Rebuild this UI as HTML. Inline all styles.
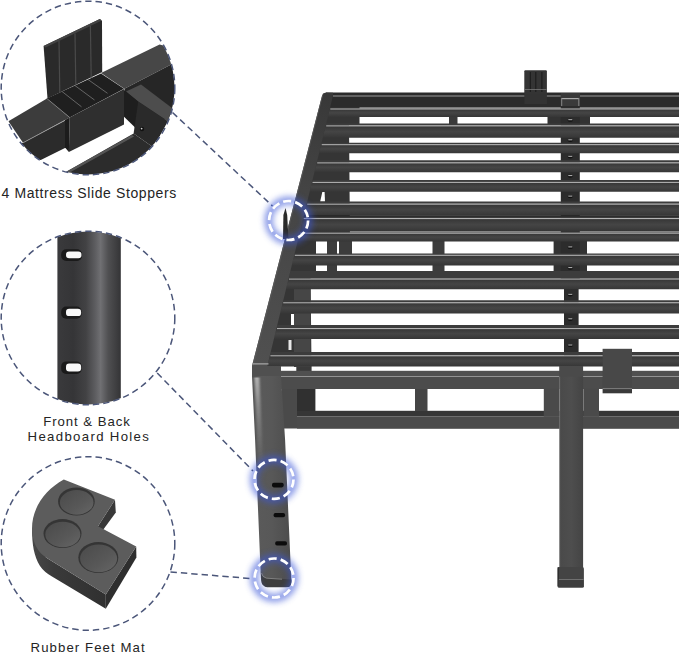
<!DOCTYPE html>
<html lang="en"><head><meta charset="utf-8"><title>Bed frame features</title>
<style>
html,body{margin:0;padding:0;background:#fff;}
body{width:679px;height:653px;overflow:hidden;position:relative;font-family:"Liberation Sans",sans-serif;color:#1f1f1f;}
svg{position:absolute;left:0;top:0;display:block;}
.lbl{position:absolute;white-space:nowrap;font-size:14px;line-height:16px;color:#242424;}
#l1{left:1.5px;top:184.5px;letter-spacing:0.6px;}
#l2{left:43.2px;top:413.6px;letter-spacing:0.95px;font-size:13.2px;}
#l3{left:27.6px;top:428.6px;letter-spacing:1.33px;font-size:13.2px;}
#l4{left:30.6px;top:640px;letter-spacing:1.08px;font-size:13.2px;}
</style></head><body>
<svg width="679" height="653" viewBox="0 0 679 653">
<defs>
<clipPath id="c1"><circle cx="88" cy="88" r="86.5"/></clipPath>
<clipPath id="c2"><circle cx="88" cy="318" r="86.5"/></clipPath>
<clipPath id="c3"><circle cx="88" cy="543.5" r="86.5"/></clipPath>
<linearGradient id="post" x1="0" x2="1" y1="0" y2="0">
<stop offset="0" stop-color="#3a3a3c"/><stop offset="0.25" stop-color="#353537"/><stop offset="0.45" stop-color="#424244"/><stop offset="0.6" stop-color="#5e5e61"/><stop offset="0.68" stop-color="#707073"/><stop offset="0.8" stop-color="#505052"/><stop offset="1" stop-color="#343436"/>
</linearGradient>
<linearGradient id="body" x1="0" x2="0" y1="0" y2="1">
<stop offset="0" stop-color="#343434"/><stop offset="0.5" stop-color="#454545"/><stop offset="1" stop-color="#363636"/>
</linearGradient>
<linearGradient id="leg" x1="0" x2="1" y1="0" y2="0">
<stop offset="0" stop-color="#4c4c4c"/><stop offset="0.15" stop-color="#5a5a5a"/><stop offset="0.5" stop-color="#585858"/><stop offset="1" stop-color="#4c4c4c"/>
</linearGradient>
<linearGradient id="cleg" x1="0" x2="1" y1="0" y2="0">
<stop offset="0" stop-color="#7a7a7a"/><stop offset="0.06" stop-color="#4a4a4a"/><stop offset="0.5" stop-color="#4e4e4e"/><stop offset="1" stop-color="#444"/>
</linearGradient>
<linearGradient id="hl" x1="0" x2="0" y1="0" y2="1"><stop offset="0" stop-color="#b8b8b8" stop-opacity="0.95"/><stop offset="0.35" stop-color="#a0a0a0" stop-opacity="0.6"/><stop offset="1" stop-color="#888" stop-opacity="0"/></linearGradient>
<filter id="b1" x="-50%" y="-10%" width="200%" height="120%"><feGaussianBlur stdDeviation="1.3 0.5"/></filter>
<linearGradient id="matside" x1="0" x2="1" y1="0" y2="0"><stop offset="0" stop-color="#484848"/><stop offset="0.3" stop-color="#3a3a3a"/><stop offset="1" stop-color="#303030"/></linearGradient>
<linearGradient id="dish" x1="0" x2="1" y1="0" y2="1"><stop offset="0" stop-color="#4a4a4a"/><stop offset="0.6" stop-color="#585858"/><stop offset="1" stop-color="#666"/></linearGradient>
<linearGradient id="rail" gradientUnits="userSpaceOnUse" x1="328" y1="95" x2="262" y2="366"><stop offset="0" stop-color="#383838"/><stop offset="0.35" stop-color="#444"/><stop offset="1" stop-color="#505050"/></linearGradient>
<filter id="glow" x="-60%" y="-60%" width="220%" height="220%"><feGaussianBlur stdDeviation="3"/></filter>
</defs>
<g id="bed">
<polygon points="328.0,96.0 359.5,96.0 359.5,125.0 349.0,125.0 350.0,241.0 316.0,241.0 316.0,272.0 310.5,272.0 311.5,366.0 280.0,366.0 258.0,366.0" fill="#353535" />
<rect x="327.0" y="241.0" width="10.0" height="31.0" fill="#3c3c3c" />
<rect x="339.0" y="241.0" width="13.0" height="24.0" fill="#3c3c3c" />
<rect x="296.3" y="366.0" width="15.3" height="6.0" fill="#3a3a3a" />
<rect x="294.0" y="289.0" width="16.5" height="78.0" fill="#464646" />
<rect x="291.0" y="314.0" width="3.0" height="11.0" fill="#fff" />
<polygon points="322.3,192.0 324.6,192.0 325.0,201.5 320.2,201.5" fill="#fff" />
<rect x="288.5" y="340.0" width="3.0" height="10.0" fill="#e8e8e8" />
<rect x="449.0" y="116.0" width="8.5" height="9.0" fill="#3a3a3a" />
<rect x="547.5" y="116.0" width="42.5" height="9.0" fill="#333" />
<rect x="432.5" y="241.0" width="12.0" height="31.0" fill="#3c3c3c" />
<rect x="553.6" y="241.0" width="33.4" height="31.0" fill="#333" />
<rect x="560.8" y="107.0" width="19.0" height="182.0" fill="#2c2c2c" />
<rect x="564.0" y="288.0" width="14.6" height="80.0" fill="#2c2c2c" />
<ellipse cx="570.3" cy="120.2" rx="2.6" ry="1.6" fill="#111"/><rect x="568.3" y="119.2" width="4" height="1" fill="#bbb"/>
<ellipse cx="570.3" cy="140.3" rx="2.6" ry="1.6" fill="#111"/><rect x="568.3" y="139.3" width="4" height="1" fill="#bbb"/>
<ellipse cx="570.3" cy="156.8" rx="2.6" ry="1.6" fill="#111"/><rect x="568.3" y="155.8" width="4" height="1" fill="#bbb"/>
<ellipse cx="570.3" cy="176.1" rx="2.6" ry="1.6" fill="#111"/><rect x="568.3" y="175.1" width="4" height="1" fill="#bbb"/>
<ellipse cx="570.3" cy="196.6" rx="2.6" ry="1.6" fill="#111"/><rect x="568.3" y="195.6" width="4" height="1" fill="#bbb"/>
<ellipse cx="570.3" cy="247.4" rx="2.6" ry="1.6" fill="#111"/><rect x="568.3" y="246.4" width="4" height="1" fill="#bbb"/>
<ellipse cx="570.3" cy="268.1" rx="2.6" ry="1.6" fill="#111"/><rect x="568.3" y="267.1" width="4" height="1" fill="#bbb"/>
<ellipse cx="570.3" cy="294.8" rx="2.6" ry="1.6" fill="#111"/><rect x="568.3" y="293.8" width="4" height="1" fill="#bbb"/>
<ellipse cx="570.3" cy="319.3" rx="2.6" ry="1.6" fill="#111"/><rect x="568.3" y="318.3" width="4" height="1" fill="#bbb"/>
<ellipse cx="570.3" cy="345.5" rx="2.6" ry="1.6" fill="#111"/><rect x="568.3" y="344.5" width="4" height="1" fill="#bbb"/>
<polygon points="330.0,107.8 679.0,107.8 679.0,108.6 329.8,108.6" fill="#3c3c3c" />
<polygon points="329.8,108.6 679.0,108.6 679.0,117.0 327.8,117.0" fill="url(#body)" />
<line x1="330.3" y1="109.0" x2="679.0" y2="109.0" stroke="#c8c8c8" stroke-width="0.90" />
<polygon points="326.2,123.5 679.0,123.5 679.0,125.5 325.7,125.5" fill="#3c3c3c" />
<polygon points="325.7,125.5 679.0,125.5 679.0,137.8 322.7,137.8" fill="url(#body)" />
<line x1="326.2" y1="125.9" x2="679.0" y2="125.9" stroke="#c8c8c8" stroke-width="0.90" />
<polygon points="321.5,142.8 679.0,142.8 679.0,144.3 321.2,144.3" fill="#3c3c3c" />
<polygon points="321.2,144.3 679.0,144.3 679.0,153.3 319.0,153.3" fill="url(#body)" />
<line x1="321.7" y1="144.7" x2="679.0" y2="144.7" stroke="#c8c8c8" stroke-width="0.90" />
<polygon points="317.3,160.3 679.0,160.3 679.0,162.5 316.7,162.5" fill="#3c3c3c" />
<polygon points="316.7,162.5 679.0,162.5 679.0,172.2 314.4,172.2" fill="url(#body)" />
<line x1="317.2" y1="162.9" x2="679.0" y2="162.9" stroke="#c8c8c8" stroke-width="0.90" />
<polygon points="312.5,180.0 679.0,180.0 679.0,182.0 312.0,182.0" fill="#3c3c3c" />
<polygon points="312.0,182.0 679.0,182.0 679.0,191.8 309.6,191.8" fill="url(#body)" />
<line x1="312.5" y1="182.4" x2="679.0" y2="182.4" stroke="#c8c8c8" stroke-width="0.90" />
<polygon points="307.3,201.4 679.0,201.4 679.0,203.8 306.7,203.8" fill="#3c3c3c" />
<polygon points="306.7,203.8 679.0,203.8 679.0,215.7 303.8,215.7" fill="url(#body)" />
<line x1="307.2" y1="204.2" x2="679.0" y2="204.2" stroke="#c8c8c8" stroke-width="0.90" />
<polygon points="303.7,216.0 679.0,216.0 679.0,218.2 303.2,218.2" fill="#3c3c3c" />
<polygon points="303.2,218.2 679.0,218.2 679.0,231.3 300.0,231.3" fill="url(#body)" />
<line x1="303.7" y1="218.6" x2="679.0" y2="218.6" stroke="#c8c8c8" stroke-width="0.90" />
<polygon points="300.0,231.6 679.0,231.6 679.0,232.8 299.7,232.8" fill="#3c3c3c" />
<polygon points="299.7,232.8 679.0,232.8 679.0,241.5 297.5,241.5" fill="url(#body)" />
<line x1="300.2" y1="233.2" x2="679.0" y2="233.2" stroke="#c8c8c8" stroke-width="0.90" />
<polygon points="294.7,253.4 679.0,253.4 679.0,254.9 294.3,254.9" fill="#3c3c3c" />
<polygon points="294.3,254.9 679.0,254.9 679.0,265.4 291.7,265.4" fill="url(#body)" />
<line x1="294.8" y1="255.3" x2="679.0" y2="255.3" stroke="#c8c8c8" stroke-width="0.90" />
<polygon points="290.4,270.9 679.0,270.9 679.0,278.7 288.5,278.7" fill="#3c3c3c" />
<polygon points="288.5,278.7 679.0,278.7 679.0,289.3 285.9,289.3" fill="url(#body)" />
<line x1="289.0" y1="279.1" x2="679.0" y2="279.1" stroke="#c8c8c8" stroke-width="0.90" />
<polygon points="283.3,300.3 679.0,300.3 679.0,302.4 282.7,302.4" fill="#3c3c3c" />
<polygon points="282.7,302.4 679.0,302.4 679.0,313.6 280.0,313.6" fill="url(#body)" />
<line x1="283.2" y1="302.8" x2="679.0" y2="302.8" stroke="#c8c8c8" stroke-width="0.90" />
<polygon points="277.3,325.0 679.0,325.0 679.0,328.2 276.5,328.2" fill="#3c3c3c" />
<polygon points="276.5,328.2 679.0,328.2 679.0,339.0 273.9,339.0" fill="url(#body)" />
<line x1="277.0" y1="328.6" x2="679.0" y2="328.6" stroke="#c8c8c8" stroke-width="0.90" />
<polygon points="270.7,352.0 679.0,352.0 679.0,355.4 269.9,355.4" fill="#3c3c3c" />
<polygon points="269.9,355.4 679.0,355.4 679.0,366.4 267.2,366.4" fill="url(#body)" />
<line x1="270.4" y1="355.8" x2="679.0" y2="355.8" stroke="#c8c8c8" stroke-width="0.90" />
<rect x="303.7" y="215.5" width="375.3" height="1.0" fill="#1c1c1c" />
<rect x="326.0" y="92.5" width="353.0" height="15.0" fill="#2b2b2b" />
<rect x="333.0" y="95.5" width="346.0" height="1.0" fill="#9a9a9a" />
<rect x="560.7" y="93.0" width="19.3" height="13.0" fill="#3a3a3a" />
<rect x="561.5" y="98.0" width="17.5" height="1.2" fill="#aaa" />
<rect x="561.2" y="98.0" width="1.0" height="8.0" fill="#888" />
<rect x="578.3" y="98.0" width="1.0" height="8.0" fill="#888" />
<polygon points="322.0,96.0 323.0,93.6 326.0,92.5 333.0,92.8 333.0,95.6 267.3,366.0 281.0,366.0 281.0,376.0 252.0,376.0 252.0,366.0" fill="url(#rail)" />
<polygon points="322.0,96.0 323.5,93.5 253.6,366.0 252.0,366.0" fill="#565656" />
<polygon points="283.0,239.0 283.4,215.0 285.5,208.0 287.2,215.0 288.4,239.0" fill="#2a2a2a" />
<rect x="281.0" y="370.8" width="398.0" height="5.6" fill="#505050" />
<rect x="281.0" y="376.2" width="398.0" height="0.9" fill="#8a8a8a" />
<rect x="281.0" y="377.0" width="398.0" height="12.0" fill="#4c4c4c" />
<rect x="252.5" y="363.4" width="16.0" height="1.0" fill="#bbb" />
<rect x="297.0" y="410.8" width="382.0" height="5.5" fill="#363636" />
<rect x="297.0" y="416.3" width="382.0" height="12.5" fill="#4b4b4b" />
<rect x="281.5" y="389.0" width="15.5" height="39.5" fill="#4a4a4a" />
<rect x="297.0" y="389.0" width="18.4" height="22.0" fill="#303030" />
<rect x="415.0" y="389.0" width="12.5" height="22.0" fill="#454545" />
<rect x="543.8" y="388.7" width="15.6" height="28.0" fill="#4a4a4a" />
<rect x="583.3" y="388.7" width="15.7" height="28.0" fill="#4a4a4a" />
<rect x="559.2" y="366.0" width="23.9" height="11.0" fill="#4a4a4a" />
<rect x="559.2" y="376.8" width="23.9" height="192.0" fill="url(#cleg)" />
<rect x="557.6" y="567.1" width="26.3" height="20.7" fill="#444" rx="1.6"/>
<rect x="558.0" y="579.2" width="25.5" height="0.8" fill="#7c7c7c" />
<rect x="557.6" y="567.1" width="1.2" height="19.0" fill="#2a2a2a" />
<rect x="558.5" y="580.0" width="25.0" height="7.0" fill="#3e3e3e" />
<rect x="602.6" y="348.8" width="29.4" height="39.4" fill="#484848" />
<rect x="602.6" y="388.2" width="29.4" height="5.1" fill="#3a3a3a" />
<rect x="602.6" y="388.2" width="29.4" height="0.9" fill="#888" />
<rect x="524.3" y="70.2" width="22.6" height="24.0" fill="#343434" rx="1"/>
<rect x="529.8" y="72.0" width="1.0" height="20.0" fill="#1a1a1a" />
<rect x="535.3" y="72.0" width="1.0" height="20.0" fill="#1a1a1a" />
<rect x="541.4" y="72.0" width="1.0" height="20.0" fill="#1a1a1a" />
<rect x="525.0" y="89.2" width="21.5" height="0.8" fill="#777" />
<rect x="524.3" y="94.0" width="22.6" height="10.0" fill="#333" />
<polygon points="252.0,376.0 281.0,376.0 285.1,440.0 291.2,578.0 291.5,583.0 289.0,587.0 266.0,587.0 262.0,584.0 260.9,578.0 255.1,440.0" fill="url(#leg)" />
<polygon points="254.3,377.5 259.3,377.5 263.5,470.0 258.5,470.0" fill="url(#hl)" filter="url(#b1)"/>
<rect x="272.0" y="482.7" width="11.7" height="4.7" fill="#0c0c0c" rx="1.8"/>
<rect x="273.6" y="513.0" width="11.5" height="4.2" fill="#0c0c0c" rx="1.8"/>
<rect x="275.2" y="541.3" width="11.8" height="4.2" fill="#0c0c0c" rx="1.8"/>
<path d="M260.8,571 Q261.5,577 266.5,578 L291.3,579.5 L291.6,583 Q291,587.2 286,587.2 L267,587.2 Q261.7,586.5 261.2,580 Z" fill="#3e3e3e"/>
<path d="M261.5,573 Q262,577.2 266.5,578.2 L282,579.2" fill="none" stroke="#9a9a9a" stroke-width="0.7"/>
</g>
<g clip-path="url(#c2)">
<rect x="57.4" y="225.0" width="63.4" height="190.0" fill="url(#post)" />
<rect x="61.2" y="249.3" width="20.8" height="11.6" fill="#1a1a1a" rx="5"/>
<rect x="66.0" y="251.5" width="15.5" height="6.8" fill="#f8f8f8" rx="3.2"/>
<rect x="61.2" y="306.6" width="20.4" height="12.1" fill="#1a1a1a" rx="5"/>
<rect x="66.0" y="308.8" width="15.1" height="7.3" fill="#f8f8f8" rx="3.2"/>
<rect x="61.2" y="361.4" width="20.4" height="12.6" fill="#1a1a1a" rx="5"/>
<rect x="66.0" y="363.6" width="15.1" height="7.8" fill="#f8f8f8" rx="3.2"/>
</g>
<g clip-path="url(#c3)">
<path d="M32,528 C32,545 34,556 40,566 Q44,572 52,576.5 L105.8,608.8 L105.8,594.6 L46,557.5 Z" fill="url(#matside)"/>
<path d="M105.8,594.6 L136.2,546.4 L136.4,557.5 L105.8,608.8 Z" fill="#2e2e2e"/>
<path d="M98,526.2 L115,499.8 L115.8,512.5 L100,534 Z" fill="#383838"/>
<path d="M63.8,479.5 L115,499.8 L98,526.2 L136.2,546.4 L105.8,594.6 L46,557.5 Q33,549 32,530 C31.5,508 45,490 63.8,479.5 Z" fill="#5c5c5c"/>
<ellipse cx="76.4" cy="501.5" rx="18.3" ry="14.0" fill="#353535"/>
<ellipse cx="76.7" cy="502.4" rx="16.8" ry="12.3" fill="url(#dish)"/>
<ellipse cx="62.5" cy="533.6" rx="19.0" ry="14.5" fill="#353535"/>
<ellipse cx="62.8" cy="534.5" rx="17.5" ry="12.8" fill="url(#dish)"/>
<ellipse cx="98.3" cy="557.5" rx="20.0" ry="15.5" fill="#353535"/>
<ellipse cx="98.6" cy="558.4" rx="18.5" ry="13.8" fill="url(#dish)"/>
</g>
<g clip-path="url(#c1)">
<polygon points="40.0,190.0 65.8,171.9 133.6,133.6 153.5,147.4 180.0,130.0 180.0,190.0" fill="#2c2c2c" />
<polygon points="65.8,171.9 132.0,135.0 134.0,136.5 68.0,173.5" fill="#555" />
<polygon points="101.0,73.0 159.6,44.4 180.0,50.0 180.0,60.0 124.4,88.8" fill="#474747" />
<polygon points="124.4,88.8 180.0,60.0 180.0,120.0 126.0,117.0" fill="#262626" />
<polygon points="126.0,91.5 141.0,84.6 172.0,108.0 168.0,121.5 138.0,101.5" fill="#4d4d4d" />
<polygon points="124.0,90.0 138.2,101.4 138.2,130.5 124.0,116.8" fill="#1e1e1e" />
<polygon points="138.2,101.4 168.0,121.3 153.5,147.4 133.6,133.6" fill="#2a2a2a" />
<circle cx="142" cy="129" r="2.2" fill="#111"/><circle cx="141.6" cy="128.6" r="0.9" fill="#ccc"/>
<polygon points="8.4,121.3 47.0,98.4 69.7,117.5 23.0,142.8" fill="#3c3c3c" />
<polygon points="23.0,142.8 69.0,118.5 69.0,146.0 41.3,159.8 20.0,165.0 0.0,150.0" fill="#2b2b2b" />
<line x1="23.0" y1="142.8" x2="65.0" y2="120.3" stroke="#999" stroke-width="0.80" />
<polygon points="69.7,117.5 124.0,89.0 124.0,124.4 68.9,152.0" fill="#2f2f2f" />
<polygon points="65.0,120.0 69.7,117.5 68.9,152.0 65.0,147.4" fill="#1c1c1c" />
<polygon points="46.7,98.4 101.0,73.5 124.0,88.8 69.7,117.5" fill="#1f1f1f" />
<line x1="46.7" y1="98.4" x2="69.7" y2="117.5" stroke="#888" stroke-width="0.80" />
<line x1="61.9" y1="91.4" x2="81.5" y2="106.8" stroke="#777" stroke-width="0.80" />
<line x1="74.9" y1="85.5" x2="94.5" y2="100.0" stroke="#777" stroke-width="0.80" />
<line x1="88.0" y1="79.5" x2="107.5" y2="93.3" stroke="#777" stroke-width="0.80" />
<polygon points="43.6,45.9 99.9,19.1 102.0,21.0 102.2,72.0 47.5,98.4" fill="#2a2a2a" />
<polygon points="43.6,45.9 99.9,19.1 101.8,20.6 45.5,47.5" fill="#444" />
<line x1="59.0" y1="41.1" x2="59.8" y2="92.8" stroke="#4a4a4a" stroke-width="1.20" />
<line x1="75.0" y1="33.5" x2="75.8" y2="85.1" stroke="#4a4a4a" stroke-width="1.20" />
<line x1="90.4" y1="26.1" x2="91.2" y2="77.7" stroke="#4a4a4a" stroke-width="1.20" />
</g>
<circle cx="88" cy="88.0" r="86.8" fill="none" stroke="#4b5679" stroke-width="1.5" stroke-dasharray="6.4 4"/>
<circle cx="88" cy="318.0" r="86.8" fill="none" stroke="#4b5679" stroke-width="1.5" stroke-dasharray="6.4 4"/>
<circle cx="88" cy="543.5" r="86.8" fill="none" stroke="#4b5679" stroke-width="1.5" stroke-dasharray="6.4 4"/>
<line x1="172.5" y1="112.5" x2="272.5" y2="206.0" stroke="#4b5679" stroke-width="1.50" stroke-dasharray="6.4 4"/>
<line x1="157.2" y1="373.0" x2="253.0" y2="471.0" stroke="#4b5679" stroke-width="1.50" stroke-dasharray="6.4 4"/>
<line x1="170.5" y1="572.0" x2="250.5" y2="578.5" stroke="#4b5679" stroke-width="1.50" stroke-dasharray="6.4 4"/>
<circle cx="288.6" cy="220.5" r="20" fill="none" stroke="#3d58d8" stroke-width="8" opacity="0.62" filter="url(#glow)"/>
<circle cx="288.6" cy="220.5" r="19.5" fill="none" stroke="#fff" stroke-width="2.7" stroke-dasharray="8.2 4.05"/>
<circle cx="274.0" cy="479.4" r="20" fill="none" stroke="#3d58d8" stroke-width="8" opacity="0.62" filter="url(#glow)"/>
<circle cx="274.0" cy="479.4" r="19.5" fill="none" stroke="#fff" stroke-width="2.7" stroke-dasharray="8.2 4.05"/>
<circle cx="274.1" cy="578.0" r="20" fill="none" stroke="#3d58d8" stroke-width="8" opacity="0.62" filter="url(#glow)"/>
<circle cx="274.1" cy="578.0" r="19.5" fill="none" stroke="#fff" stroke-width="2.7" stroke-dasharray="8.2 4.05"/>
</svg>
<div class="lbl" id="l1">4 Mattress Slide Stoppers</div>
<div class="lbl" id="l2">Front &amp; Back</div>
<div class="lbl" id="l3">Headboard Holes</div>
<div class="lbl" id="l4">Rubber Feet Mat</div>
</body></html>
